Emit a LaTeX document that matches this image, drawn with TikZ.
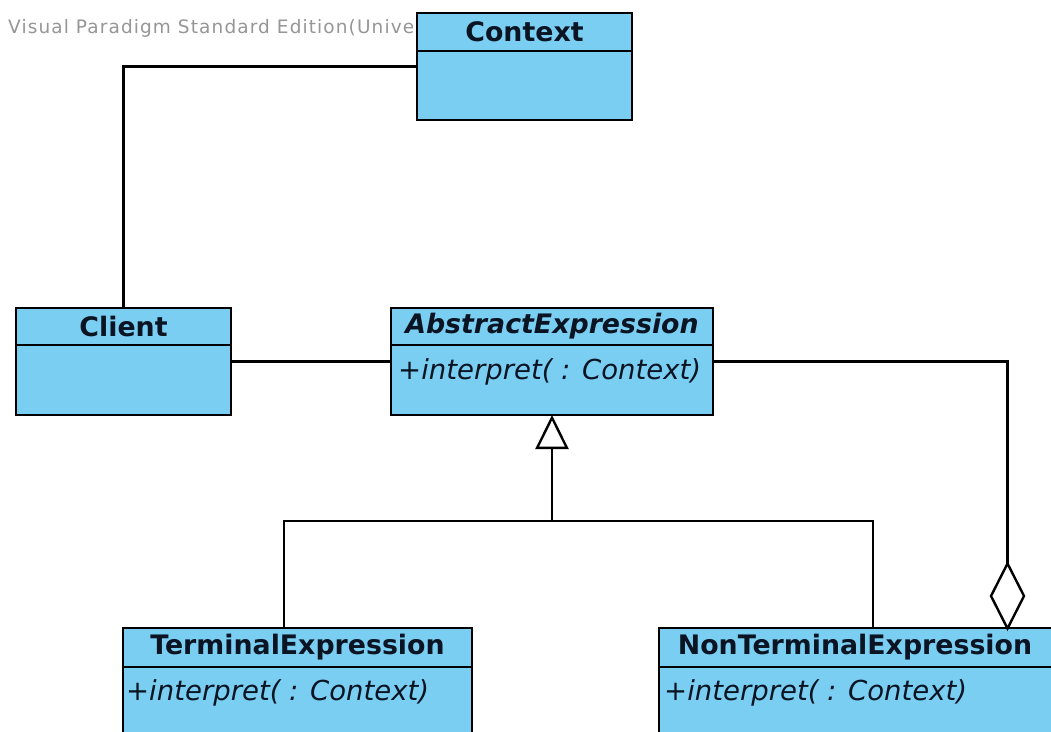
\documentclass[tikz,border=0pt]{standalone}
\usepackage{fontspec}
\setmainfont{DejaVu Sans}
\newfontfamily\wmfont[LetterSpace=6]{DejaVu Sans}
\usetikzlibrary{arrows.meta,shapes.geometric}
\definecolor{umlfill}{RGB}{122,206,242}
\definecolor{wmgray}{RGB}{150,150,150}
\definecolor{umltext}{RGB}{10,20,35}
\tikzset{
  classbox/.style={draw=black, line width=2.4pt, fill=umlfill, rectangle, anchor=north west, inner sep=0pt, outer sep=0pt},
  hdr/.style={font=\fontsize{26.8}{30}\selectfont\bfseries, text=umltext, anchor=center, inner sep=0pt},
  meth/.style={font=\fontsize{27.5}{30}\selectfont\itshape, text=umltext, anchor=base west, inner sep=0pt},
  divider/.style={line width=2.4pt},
  conn/.style={line width=2.4pt, black},
  watermark/.style={font=\wmfont\fontsize{18.5}{20}\selectfont, text=wmgray, anchor=base west, inner sep=0pt},
}
\begin{document}
\begin{tikzpicture}[x=1pt,y=-1pt]
\useasboundingbox (0,0) rectangle (1051,731);
\clip (0,0) rectangle (1051,731);
\fill[white] (0,0) rectangle (1051,731);

% watermark (partly hidden behind the Context box)
\node[watermark] (wm) at (8,33) {Visual Paradigm Standard Edition(University of Portsmouth)};

% Context
\node[classbox, minimum width=215pt, minimum height=107pt] (ctx) at (417,13) {};
\draw[divider] (417,51) -- (632,51);
\node[hdr] (ctxT) at (524.5,32) {Context};

% Client
\node[classbox, minimum width=215pt, minimum height=107pt] (cl) at (16,308) {};
\draw[divider] (16,345) -- (231,345);
\node[hdr] (clT) at (123.5,326.5) {Client};

% AbstractExpression
\node[classbox, minimum width=322pt, minimum height=107pt] (ae) at (391,308) {};
\draw[divider] (391,345) -- (713,345);
\node[hdr, font=\fontsize{26.8}{30}\selectfont\bfseries\itshape] (aeT) at (552,326.5) {AbstractExpression};
\node[meth] (aeM) at (398,379) {+interpret( : Context)};

% TerminalExpression
\node[classbox, minimum width=349pt, minimum height=150pt] (te) at (123,628) {};
\draw[divider] (123,667) -- (472,667);
\node[hdr] (teT) at (297.5,647.5) {TerminalExpression};
\node[meth] (teM) at (126,700) {+interpret( : Context)};

% NonTerminalExpression
\node[classbox, minimum width=450pt, minimum height=150pt] (nte) at (659,628) {};
\draw[divider] (659,667) -- (1109,667);
\node[hdr] (nteT) at (855,647.5) {NonTerminalExpression};
\node[meth] (nteM) at (664,700) {+interpret( : Context)};

% aggregation diamond
\node[diamond, draw=black, line width=2.4pt, fill=white, minimum width=33pt, minimum height=65pt, inner sep=0pt, outer sep=0pt] (agg) at (1007.5,596) {};

% connectors
\coordinate (teTop) at (284,628);
\coordinate (nteTop) at (873,628);
\coordinate (j) at (552,521);

\draw[conn] (ctx.west) -| (cl.north);
\draw[conn] (cl.east) -- (ae.west);
\draw[conn] (ae.east) -| (agg.north);
\draw[conn] (teTop) |- (j) -| (nteTop);
\draw[conn, -{Triangle[open, length=34pt, width=33pt]}] (j) -- (ae.south);
\end{tikzpicture}
\end{document}
